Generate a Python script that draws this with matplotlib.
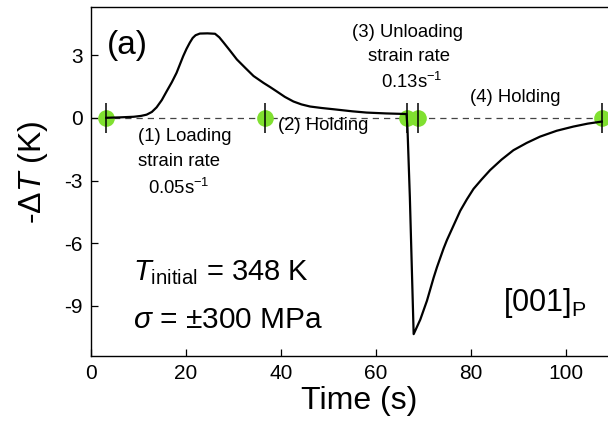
import matplotlib
matplotlib.use('Agg')
import matplotlib.pyplot as plt

plt.rcParams['font.family'] = ['Liberation Sans', 'DejaVu Sans']
plt.rcParams['mathtext.fontset'] = 'custom'
plt.rcParams['mathtext.rm'] = 'Liberation Sans'
plt.rcParams['mathtext.it'] = 'Liberation Sans:italic'
plt.rcParams['axes.unicode_minus'] = False

# temperature change
time = [3.2, 6.0, 9.0, 10.5, 11.7, 12.8, 13.8, 14.9, 15.9, 17.0, 18.0, 18.7,
        19.4, 20.1, 20.8, 21.4, 22.0, 22.9, 24.5, 26.1, 27.0, 27.9, 29.3, 30.7,
        32.5, 34.2, 36.3, 37.7, 39.1, 40.8, 42.6, 44.3, 46.1, 48.5, 51.0, 55.0,
        58.0, 62.0, 65.0, 66.4, 66.6, 67.1, 67.9, 68.6, 69.3, 70.0, 70.7, 71.4,
        72.1, 72.8, 73.5, 74.2, 74.9, 75.6, 76.3, 77.0, 77.7, 79.1, 80.5, 82.2,
        84.0, 86.4, 88.9, 91.7, 94.5, 98.0, 101.5, 104.5, 107.5]
dT = [0.0, 0.02, 0.05, 0.09, 0.15, 0.28, 0.5, 0.85, 1.26, 1.7, 2.15, 2.55,
      2.95, 3.3, 3.6, 3.82, 3.95, 4.03, 4.04, 4.02, 3.85, 3.6, 3.2, 2.79,
      2.38, 2.0, 1.67, 1.47, 1.26, 1.0, 0.78, 0.64, 0.54, 0.47, 0.41, 0.31,
      0.25, 0.21, 0.19, 0.18, -0.5, -3.8, -10.35, -10.0, -9.65, -9.2, -8.75, -8.2,
      -7.65, -7.15, -6.7, -6.25, -5.85, -5.5, -5.15, -4.8, -4.45, -3.9, -3.4, -2.95,
      -2.5, -2.0, -1.55, -1.2, -0.9, -0.62, -0.42, -0.28, -0.18]

# stage boundaries
marks = [3.2, 36.6, 66.5, 68.9, 107.5]

fig = plt.figure(figsize=(6.08, 4.28), dpi=100)
ax = fig.add_axes([0.1497, 0.168, 0.8503, 0.8156])

ax.axhline(0, color='#444444', lw=0.9, ls=(0, (5, 4)), zorder=1)
ax.plot(marks, [0] * len(marks), 'o', ms=12, color='#80e030', mec='none', zorder=2)
ax.plot(marks, [0] * len(marks), '|', ms=21, mew=1.1, color='black', zorder=4)
ax.plot(time, dT, color='black', lw=1.6, zorder=3)

ax.set_xlim(0, 108.8)
ax.set_ylim(-11.4, 5.3)
ax.set_xticks([0, 20, 40, 60, 80, 100])
ax.set_yticks([-9, -6, -3, 0, 3])
ax.tick_params(direction='in', length=5, width=0.9, labelsize=15, pad=6)
ax.spines['right'].set_visible(False)
for s in ['left', 'bottom', 'top']:
    ax.spines[s].set_linewidth(1.0)

ax.set_xlabel('Time (s)', fontsize=23)
ax.xaxis.set_label_coords(0.518, -0.085)
ax.set_ylabel(r'-$\Delta$$\mathit{T}$ (K)', fontsize=23)
ax.yaxis.set_label_coords(-0.079, 0.527)

fs = 13.3
ax.text(3.4, 3.45, '(a)', fontsize=24, va='center')
ax.text(9.9, -0.91, '(1) Loading', fontsize=fs, va='center')
ax.text(9.9, -2.11, 'strain rate', fontsize=fs, va='center')
ax.text(12.0, -3.36, r'0.05s$^{\mathregular{-1}}$', fontsize=fs, va='center')
ax.text(39.4, -0.35, '(2) Holding', fontsize=fs, va='center')
ax.text(66.7, 4.08, '(3) Unloading', fontsize=fs, va='center', ha='center')
ax.text(67.0, 2.93, 'strain rate', fontsize=fs, va='center', ha='center')
ax.text(67.6, 1.73, r'0.13s$^{\mathregular{-1}}$', fontsize=fs, va='center', ha='center')
ax.text(89.3, 0.96, '(4) Holding', fontsize=fs, va='center', ha='center')
ax.text(8.8, -7.39, r'$T_{\mathrm{initial}}$ = 348 K', fontsize=21, va='center')
ax.text(8.8, -9.69, r'$\sigma$ = ±300 MPa', fontsize=21.5, va='center')
ax.text(86.7, -8.87, r'[001]$_{\mathrm{P}}$', fontsize=22, va='center')

fig.savefig('out.png', dpi=100)
